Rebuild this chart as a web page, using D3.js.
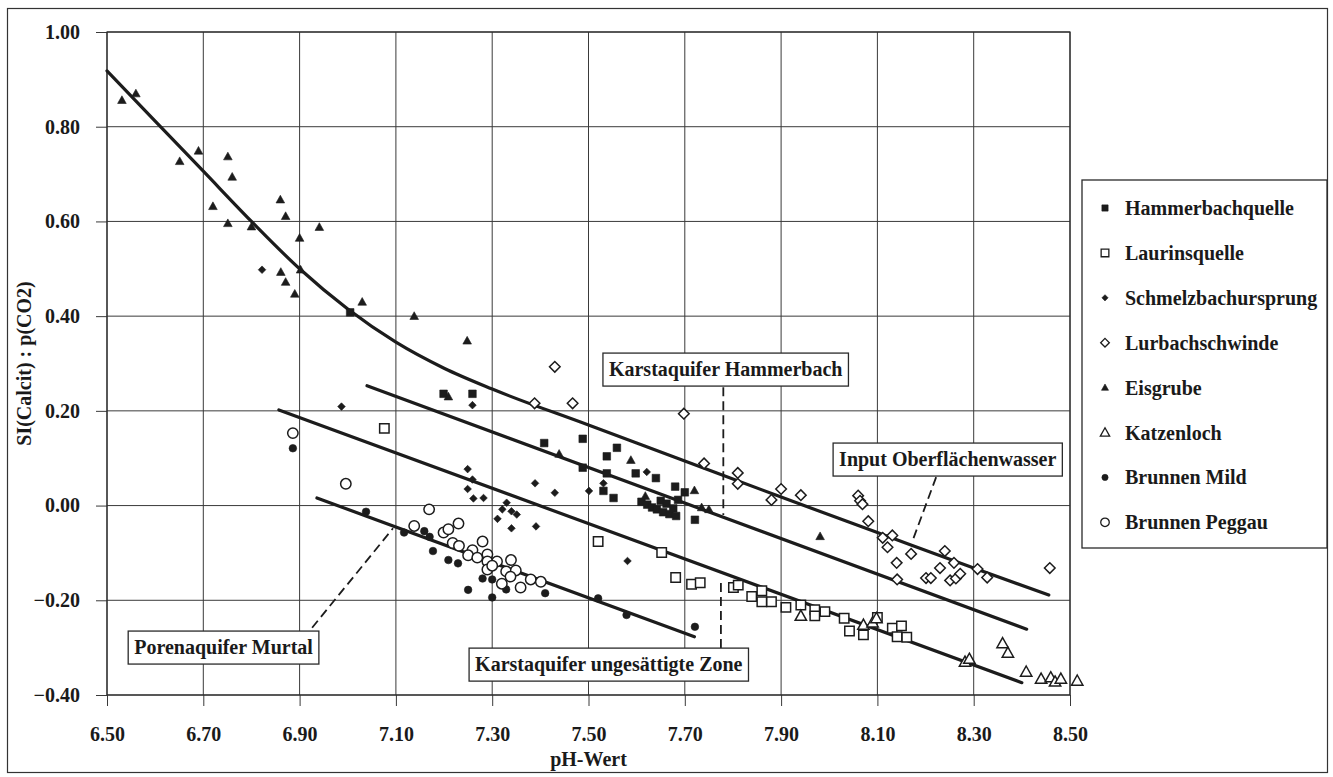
<!DOCTYPE html>
<html lang="de">
<head>
    <meta charset="UTF-8">
    <title>SI(Calcit) : p(CO2) gegen pH-Wert</title>
    <style>
        body { margin: 0; background: #fff; }
        svg text {
            font-family: "Liberation Serif", "Times New Roman", Times, serif;
            font-weight: 700;
            fill: #1a1a1a;
        }
    </style>
</head>
<body>
<svg id="chart" width="1333" height="777"></svg>

<script src="https://cdn.jsdelivr.net/npm/d3@7/dist/d3.min.js"></script>
<script>
    // --- data: [pH, SI(Calcit):p(CO2)] ---
    const phTicks = [6.5, 6.7, 6.9, 7.1, 7.3, 7.5, 7.7, 7.9, 8.1, 8.3, 8.5];
    const siTicks = [1.0, 0.8, 0.6, 0.4, 0.2, 0.0, -0.2, -0.4];

    const hammerbachquelle = [
        [7.005, 0.408], [7.199, 0.236], [7.259, 0.236], [7.408, 0.132], [7.488, 0.141],
        [7.559, 0.122], [7.538, 0.104], [7.488, 0.080], [7.538, 0.068], [7.598, 0.068],
        [7.640, 0.058], [7.531, 0.031], [7.552, 0.016], [7.680, 0.040], [7.700, 0.028],
        [7.721, -0.030], [7.610, 0.008], [7.622, 0.002], [7.632, -0.004], [7.642, -0.008],
        [7.650, 0.010], [7.655, -0.014], [7.662, 0.004], [7.668, -0.018], [7.676, -0.006],
        [7.682, -0.022], [7.686, 0.012]
    ];
    const laurinsquelle = [
        [7.076, 0.163], [7.520, -0.076], [7.652, -0.099], [7.681, -0.152], [7.714, -0.166],
        [7.732, -0.163], [7.801, -0.173], [7.811, -0.168], [7.839, -0.192], [7.860, -0.180],
        [7.860, -0.203], [7.880, -0.203], [7.910, -0.215], [7.941, -0.210], [7.970, -0.220],
        [7.970, -0.233], [7.991, -0.224], [8.031, -0.238], [8.042, -0.265], [8.071, -0.273],
        [8.100, -0.236], [8.131, -0.259], [8.150, -0.254], [8.141, -0.277], [8.161, -0.278]
    ];
    const schmelzbachursprung = [
        [6.822, 0.498], [6.987, 0.209], [7.259, 0.212], [7.249, 0.077], [7.259, 0.055],
        [7.249, 0.035], [7.261, 0.015], [7.282, 0.016], [7.389, 0.047], [7.430, 0.027],
        [7.501, 0.031], [7.531, 0.047], [7.621, 0.071], [7.330, 0.006], [7.321, -0.008],
        [7.340, -0.012], [7.351, -0.019], [7.311, -0.028], [7.340, -0.048], [7.391, -0.044],
        [7.581, -0.117]
    ];
    const lurbachschwinde = [
        [7.430, 0.293], [7.388, 0.216], [7.467, 0.216], [7.698, 0.194], [7.740, 0.089],
        [7.810, 0.069], [7.810, 0.046], [7.900, 0.035], [7.880, 0.012], [7.941, 0.022],
        [8.060, 0.021], [8.064, 0.010], [8.069, 0.003], [8.081, -0.033], [8.111, -0.068],
        [8.131, -0.063], [8.121, -0.088], [8.140, -0.121], [8.170, -0.102], [8.141, -0.156],
        [8.240, -0.096], [8.259, -0.121], [8.230, -0.132], [8.201, -0.153], [8.211, -0.153],
        [8.251, -0.158], [8.263, -0.154], [8.272, -0.144], [8.308, -0.134], [8.328, -0.152],
        [8.458, -0.132]
    ];
    const eisgrube = [
        [6.531, 0.856], [6.560, 0.870], [6.651, 0.727], [6.690, 0.749], [6.751, 0.737],
        [6.760, 0.694], [6.720, 0.632], [6.751, 0.596], [6.800, 0.589], [6.860, 0.646],
        [6.871, 0.611], [6.941, 0.588], [6.900, 0.565], [6.861, 0.493], [6.871, 0.472],
        [6.890, 0.447], [6.902, 0.498], [7.030, 0.430], [7.138, 0.400], [7.248, 0.348],
        [7.209, 0.230], [7.439, 0.109], [7.588, 0.096], [7.720, 0.032], [7.618, 0.020],
        [7.735, -0.004], [7.750, -0.008], [7.981, -0.065]
    ];
    const katzenloch = [
        [7.941, -0.233], [8.071, -0.252], [8.090, -0.247], [8.098, -0.238], [8.282, -0.330],
        [8.291, -0.324], [8.360, -0.291], [8.371, -0.311], [8.409, -0.351], [8.440, -0.366],
        [8.460, -0.363], [8.469, -0.372], [8.481, -0.366], [8.515, -0.370]
    ];
    const brunnenMild = [
        [6.886, 0.121], [7.038, -0.013], [7.117, -0.057], [7.159, -0.054], [7.170, -0.066],
        [7.177, -0.096], [7.209, -0.115], [7.229, -0.122], [7.250, -0.178], [7.280, -0.154],
        [7.300, -0.156], [7.300, -0.194], [7.329, -0.177], [7.410, -0.185], [7.520, -0.196],
        [7.579, -0.231], [7.721, -0.256]
    ];
    const brunnenPeggau = [
        [6.886, 0.153], [6.996, 0.046], [7.169, -0.008], [7.138, -0.043], [7.199, -0.057],
        [7.209, -0.050], [7.230, -0.038], [7.218, -0.079], [7.231, -0.085], [7.259, -0.094],
        [7.250, -0.105], [7.269, -0.110], [7.280, -0.076], [7.290, -0.103], [7.290, -0.118],
        [7.310, -0.118], [7.290, -0.135], [7.339, -0.115], [7.329, -0.139], [7.349, -0.137],
        [7.338, -0.150], [7.320, -0.165], [7.359, -0.173], [7.380, -0.156], [7.401, -0.161],
        [7.300, -0.127]
    ];

    // fitted lines, read as points along each drawn line
    const fitEisgrubeLurbach = [
        [6.50, 0.918], [6.60, 0.812], [6.70, 0.706], [6.80, 0.600], [6.90, 0.500],
        [7.00, 0.415], [7.10, 0.345], [7.20, 0.290], [7.30, 0.246], [7.50, 0.170],
        [7.70, 0.094], [7.90, 0.018], [8.10, -0.057], [8.30, -0.132], [8.456, -0.189]
    ];
    const fitHammerbach = [[7.04, 0.253], [8.41, -0.261]];
    const fitUngesaettigt = [[6.857, 0.202], [8.40, -0.374]];
    const fitMurtal = [[6.936, 0.016], [7.72, -0.277]];

    const seriesNames = ["Hammerbachquelle", "Laurinsquelle", "Schmelzbachursprung", "Lurbachschwinde",
        "Eisgrube", "Katzenloch", "Brunnen Mild", "Brunnen Peggau"];
    const seriesData = [hammerbachquelle, laurinsquelle, schmelzbachursprung, lurbachschwinde,
        eisgrube, katzenloch, brunnenMild, brunnenPeggau];

    const calloutText = ["Karstaquifer Hammerbach", "Input Oberflächenwasser",
        "Porenaquifer Murtal", "Karstaquifer ungesättigte Zone"];

    // --- marker styles, same order as seriesNames ---
    const markers = [
        { shape: "square", filled: true, r: 3.8 },
        { shape: "square", filled: false, r: 4.7 },
        { shape: "diamond", filled: true, r: 3.8 },
        { shape: "diamond", filled: false, r: 5.3 },
        { shape: "triangle", filled: true, r: 4.4 },
        { shape: "triangle", filled: false, r: 5.8 },
        { shape: "circle", filled: true, r: 3.8 },
        { shape: "circle", filled: false, r: 5.2 }
    ];

    function shapePath(shape, r) {
        if (shape === "square") return `M${-r},${-r}H${r}V${r}H${-r}Z`;
        if (shape === "diamond") return `M0,${-r}L${r},0L0,${r}L${-r},0Z`;
        if (shape === "triangle") return `M0,${-r}L${r * 0.98},${r * 0.75}L${-r * 0.98},${r * 0.75}Z`;
        return `M${r},0A${r},${r} 0 1,1 ${-r},0A${r},${r} 0 1,1 ${r},0Z`;
    }

    const svg = d3.select("#chart");
    const ink = "#1c1c1c";
    const serif = "'Liberation Serif', 'Times New Roman', Times, serif";

    const plot = { left: 107, right: 1070, top: 32, bottom: 695 };

    const x = d3.scaleLinear().domain([6.5, 8.5]).range([plot.left, plot.right]);
    const y = d3.scaleLinear().domain([-0.4, 1.0]).range([plot.bottom, plot.top]);

    // outer frame
    svg.append("rect")
        .attr("x", 7.5).attr("y", 8.5).attr("width", 1320).attr("height", 764)
        .attr("fill", "white").attr("stroke", "#333").attr("stroke-width", 1.2);

    // gridlines
    const grid = svg.append("g").attr("stroke", "#3a3a3a").attr("stroke-width", 1);
    grid.selectAll("line.v").data(phTicks).enter().append("line")
        .attr("x1", d => x(d)).attr("x2", d => x(d))
        .attr("y1", plot.top).attr("y2", plot.bottom);
    grid.selectAll("line.h").data(siTicks).enter().append("line")
        .attr("y1", d => y(d)).attr("y2", d => y(d))
        .attr("x1", plot.left).attr("x2", plot.right);

    // axes (outward ticks + labels)
    const xAxis = svg.append("g")
        .attr("transform", `translate(0,${plot.bottom})`)
        .call(d3.axisBottom(x).tickValues(phTicks).tickFormat(d3.format(".2f"))
            .tickSizeInner(11).tickSizeOuter(0).tickPadding(21));
    const yAxis = svg.append("g")
        .attr("transform", `translate(${plot.left},0)`)
        .call(d3.axisLeft(y).tickValues(siTicks).tickFormat(d3.format(".2f"))
            .tickSizeInner(11).tickSizeOuter(0).tickPadding(16));
    [xAxis, yAxis].forEach(a => {
        a.attr("font-family", serif).attr("font-size", 20);
        a.select(".domain").remove();
        a.selectAll(".tick line").attr("stroke", "#3a3a3a");
        a.selectAll(".tick text").attr("fill", ink);
    });

    svg.append("rect")
        .attr("x", plot.left).attr("y", plot.top)
        .attr("width", plot.right - plot.left).attr("height", plot.bottom - plot.top)
        .attr("fill", "none").attr("stroke", "#2a2a2a").attr("stroke-width", 1.2);

    // axis titles
    svg.append("text")
        .attr("x", (plot.left + plot.right) / 2).attr("y", 766)
        .attr("text-anchor", "middle").attr("font-size", 20)
        .text("pH-Wert");
    svg.append("text")
        .attr("transform", `translate(31,${(plot.top + plot.bottom) / 2}) rotate(-90)`)
        .attr("text-anchor", "middle").attr("font-size", 20)
        .text("SI(Calcit) : p(CO2)");

    // fitted lines
    const straight = d3.line().x(d => x(d[0])).y(d => y(d[1]));
    const curved = d3.line().x(d => x(d[0])).y(d => y(d[1])).curve(d3.curveMonotoneX);
    [fitEisgrubeLurbach, fitHammerbach, fitUngesaettigt, fitMurtal].forEach((pts, i) => {
        svg.append("path")
            .datum(pts)
            .attr("fill", "none").attr("stroke", ink).attr("stroke-width", 3.2)
            .attr("stroke-linecap", "round")
            .attr("d", i === 0 ? curved : straight);
    });

    // points
    seriesData.forEach((pts, i) => {
        const m = markers[i];
        svg.append("g").selectAll("path")
            .data(pts)
            .enter().append("path")
            .attr("transform", d => `translate(${x(d[0])},${y(d[1])})`)
            .attr("d", shapePath(m.shape, m.r))
            .attr("fill", m.filled ? ink : "white")
            .attr("stroke", ink)
            .attr("stroke-width", m.filled ? 0.6 : 1.5);
    });

    // callouts: box top-left, leader start, leader end (data coordinates)
    const callouts = [
        { box: [7.530, 0.322], from: [7.780, 0.250], to: [7.780, -0.020] },
        { box: [8.008, 0.132], from: [8.222, 0.060], to: [8.172, -0.077] },
        { box: [6.544, -0.265], from: [6.926, -0.258], to: [7.094, -0.048] },
        { box: [7.252, -0.301], from: [7.775, -0.301], to: [7.775, -0.153] }
    ];
    callouts.forEach(c => {
        svg.append("line")
            .attr("x1", x(c.from[0])).attr("y1", y(c.from[1]))
            .attr("x2", x(c.to[0])).attr("y2", y(c.to[1]))
            .attr("stroke", ink).attr("stroke-width", 1.8)
            .attr("stroke-dasharray", "9,5");
    });
    callouts.forEach((c, i) => {
        const g = svg.append("g");
        const bx = x(c.box[0]), by = y(c.box[1]);
        const rect = g.append("rect").attr("x", bx).attr("y", by).attr("height", 33)
            .attr("fill", "white").attr("stroke", "#2a2a2a").attr("stroke-width", 1.3);
        const t = g.append("text").attr("x", bx + 6).attr("y", by + 23)
            .attr("font-size", 20).text(calloutText[i]);
        rect.attr("width", t.node().getComputedTextLength() + 12);
    });

    // legend
    const legend = svg.append("g");
    legend.append("rect")
        .attr("x", 1082).attr("y", 180).attr("width", 245).attr("height", 368)
        .attr("fill", "white").attr("stroke", "#2a2a2a").attr("stroke-width", 1.3);
    seriesNames.forEach((name, i) => {
        const m = markers[i];
        const row = legend.append("g").attr("transform", `translate(1105,${208 + i * 44.9})`);
        row.append("path")
            .attr("d", shapePath(m.shape, m.r * 0.82))
            .attr("fill", m.filled ? ink : "white")
            .attr("stroke", ink).attr("stroke-width", m.filled ? 0.6 : 1.3);
        row.append("text").attr("x", 20).attr("y", 7).attr("font-size", 20).text(name);
    });
</script>
</body>
</html>
